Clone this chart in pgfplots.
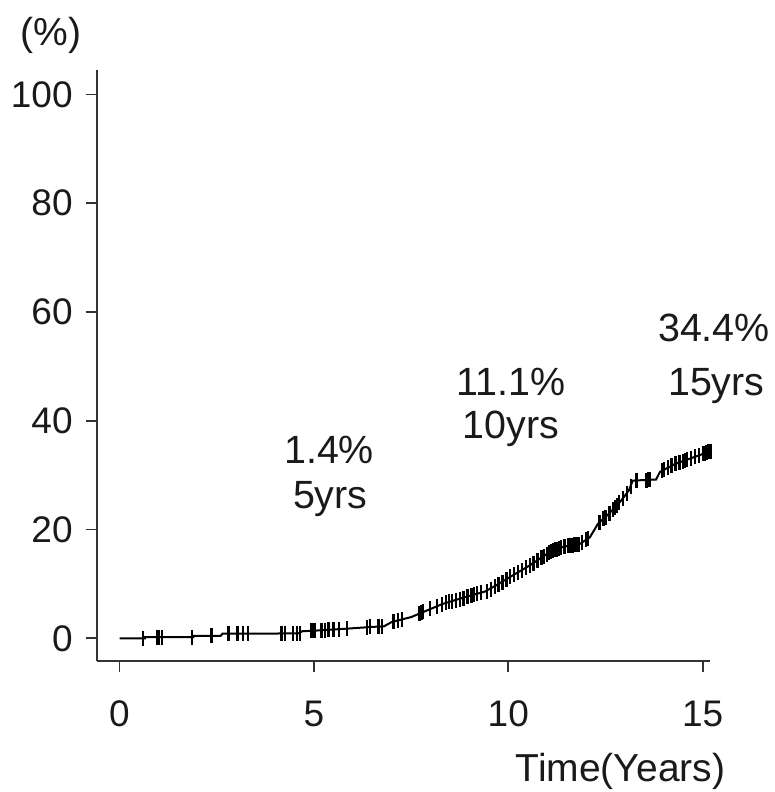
\documentclass[border=0pt]{standalone}
\usepackage{fontspec}
\setmainfont{Liberation Sans}
\usepackage{pgfplots}
\pgfplotsset{compat=1.18}
\definecolor{axgray}{HTML}{333333}
\definecolor{txt}{HTML}{1A1A1A}
\begin{document}
\begin{tikzpicture}
\begin{axis}[
  scale only axis,
  width=306.7pt, height=295.5pt,
  xmin=-0.587, xmax=15.19,
  ymin=-4.17, ymax=104.5,
  axis lines*=left,
  axis line style={axgray, line width=0.9pt},
  tick style={axgray, line width=0.9pt},
  tick align=outside,
  major tick length=5.5pt,
  xtick={0,5,10,15},
  ytick={0,20,40,60,80,100},
  /pgf/number format/assume math mode=true,
  ticklabel style={font=\fontsize{18.5}{21}\selectfont, text=txt},
  xticklabel style={yshift=-11pt},
  yticklabel style={xshift=-3pt},
  clip=false,
]
\coordinate (O) at (rel axis cs:0,0);
% cumulative incidence curve
\addplot[black, line width=1pt] coordinates {
(0,0) (0.65,0) (0.65,0.2) (1.9,0.2) (1.9,0.45) (2.6,0.45) (2.65,0.85)
(4.6,0.9) (4.7,1.3) (5.0,1.4) (5.9,1.8) (6.5,2.1) (6.8,2.2) (7.0,3.0)
(7.5,3.9) (7.8,4.8) (8.3,6.3) (8.9,7.6) (9.4,8.6) (9.7,9.8) (10.05,11.3)
(10.55,13.4) (11.05,15.8) (11.4,16.8) (11.85,17.4) (12.1,18.6) (12.3,21.0)
(12.6,23.0) (12.9,25.3) (13.1,27.2) (13.2,29.0) (13.8,29.2) (13.9,30.6)
(14.3,32.1) (14.85,33.5) (15.2,34.4)
};
% censor marks
\addplot[only marks, mark=|, mark size=3.75pt, mark options={line width=1.2pt, black}] coordinates {
(0.61,0.0) (0.96,0.2) (1.02,0.2) (1.09,0.2) (1.86,0.2) (2.37,0.45) (2.80,0.85)
(3.03,0.85) (3.18,0.85) (3.31,0.85) (4.17,0.9) (4.26,0.9) (4.46,0.9) (4.56,0.9)
(4.64,0.9) (4.93,1.35) (4.96,1.35) (4.99,1.4) (5.02,1.4) (5.20,1.5) (5.29,1.5)
(5.37,1.55) (5.50,1.6) (5.65,1.7) (5.85,1.8) (6.36,2.05) (6.44,2.1) (6.66,2.15)
(6.75,2.2) (7.05,3.1) (7.17,3.3) (7.26,3.5) (7.72,4.6) (7.75,4.7) (7.78,4.8)
(7.81,4.85) (7.99,5.4) (8.16,5.9) (8.30,6.2) (8.40,6.5) (8.48,6.7) (8.55,6.8)
(8.65,7.0) (8.75,7.2) (8.85,7.4) (8.95,7.6) (9.05,7.8) (9.12,8.0) (9.2,8.2)
(9.3,8.4) (9.45,8.6) (9.55,9.0) (9.65,9.5) (9.75,9.9) (9.85,10.3) (9.95,10.8)
(10.05,11.3) (10.15,11.7) (10.25,12.1) (10.35,12.5) (10.45,13.0) (10.55,13.4)
(10.65,13.8) (10.75,14.3) (10.85,14.8) (10.92,15.1) (11.0,15.5) (11.05,15.8)
(11.1,15.9) (11.15,16.1) (11.2,16.3) (11.25,16.4) (11.3,16.5) (11.35,16.7)
(11.45,16.8) (11.55,17.0) (11.6,17.1) (11.65,17.1) (11.7,17.2) (11.75,17.3)
(11.8,17.3) (11.9,17.6) (12.0,18.1) (12.05,18.3) (12.35,21.3) (12.45,22.0)
(12.5,22.3) (12.6,23.0) (12.7,23.6) (12.75,24.0) (12.8,24.5) (12.85,24.9)
(12.95,25.7) (13.05,26.6) (13.15,28.0) (13.3,29.1) (13.55,29.1) (13.6,29.2)
(13.65,29.2) (13.95,30.8) (14.0,31.0) (14.1,31.4) (14.2,31.7) (14.3,32.1)
(14.4,32.3) (14.5,32.6) (14.55,32.7) (14.6,32.9) (14.7,33.1) (14.8,33.4)
(14.9,33.6) (15.0,33.9) (15.05,34.0) (15.1,34.2) (15.15,34.3) (15.2,34.4)
};
\begin{scope}[every node/.style={text=txt, font=\fontsize{19.7}{23}\selectfont, inner sep=0pt, anchor=base}]
\node at (axis cs:5.39,32.2) {1.4\%};
\node at (axis cs:5.42,23.96) {5yrs};
\node at (axis cs:10.07,44.7) {11.1\%};
\node at (axis cs:10.07,36.8) {10yrs};
\node at (axis cs:15.29,54.5) {34.4\%};
\node at (axis cs:15.35,44.7) {15yrs};
\end{scope}
\end{axis}
\node[text=txt, font=\fontsize{19.5}{23}\selectfont, inner sep=0pt] at ([xshift=-22.85pt,yshift=313pt]O) {(\%)};
\node[text=txt, font=\fontsize{19.5}{23}\selectfont, inner sep=0pt, anchor=base] at ([xshift=261.9pt,yshift=-60.35pt]O) {Time(Years)};
\pgfresetboundingbox
\path[use as bounding box] ([xshift=-48.35pt,yshift=-65.5pt]O) rectangle ++(387.5pt,396pt);
\end{tikzpicture}
\end{document}
